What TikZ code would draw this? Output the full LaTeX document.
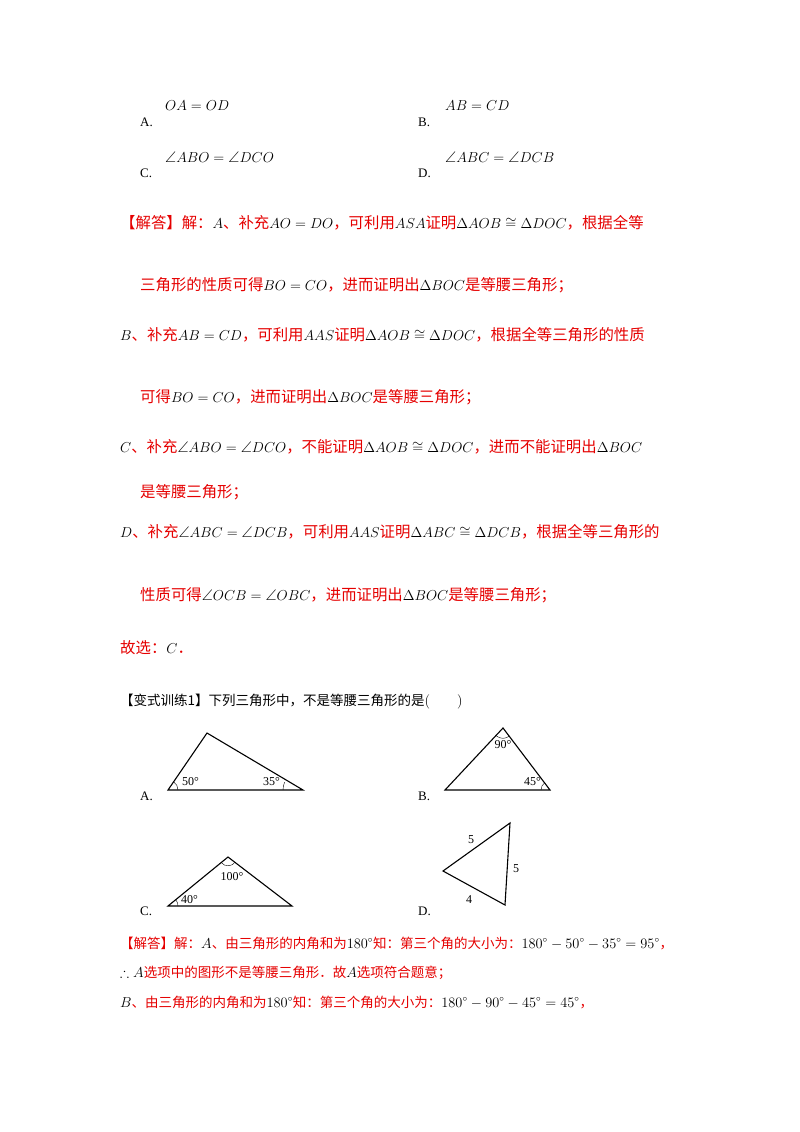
\documentclass[tikz,border=0pt]{standalone}
\usepackage{amssymb}
\usepackage{fontspec}
\setmainfont{Noto Sans CJK SC}
\newfontfamily\serifm{Liberation Serif}
\newcommand\mm[1]{{\color{black}$#1$}}
\begin{document}
\begin{tikzpicture}[x=1pt,y=-1pt,
  txt/.style={anchor=base west,inner sep=0pt,font=\fontsize{15.4}{19}\selectfont},
  red/.style={txt,text=red!90!black},
  sm/.style={anchor=base west,inner sep=0pt,font=\fontsize{13.5}{16}\selectfont},
  smred/.style={sm,text=red!90!black},
  lab/.style={anchor=base west,inner sep=0pt,font=\serifm\fontsize{13}{16}\selectfont},
  tri/.style={line width=1.1pt},
  ang/.style={font=\serifm\fontsize{12}{14}\selectfont,inner sep=0pt}]
\useasboundingbox (0,0) rectangle (800,1132);
% options
\node[txt] (oa) at (165,110) {\mm{OA=OD}};
\node[lab] (la) at (140,126) {A.};
\node[txt] (ab) at (445,110) {\mm{AB=CD}};
\node[lab] (lb) at (418,126) {B.};
\node[txt] (abo) at (165,162) {\mm{\angle ABO=\angle DCO}};
\node[lab] (lc) at (140,177) {C.};
\node[txt] (abc) at (445,162) {\mm{\angle ABC=\angle DCB}};
\node[lab] (ld) at (418,177) {D.};
% solution
\node[red] (s1) at (120,228) {【解答】解：\mm{A}、补充\mm{AO=DO}，可利用\mm{ASA}证明\mm{\Delta AOB\cong\Delta DOC}，根据全等};
\node[red] (s2) at (140,290) {三角形的性质可得\mm{BO=CO}，进而证明出\mm{\Delta BOC}是等腰三角形；};
\node[red] (s3) at (120,340) {\mm{B}、补充\mm{AB=CD}，可利用\mm{AAS}证明\mm{\Delta AOB\cong\Delta DOC}，根据全等三角形的性质};
\node[red] (s4) at (140,402) {可得\mm{BO=CO}，进而证明出\mm{\Delta BOC}是等腰三角形；};
\node[red] (s5) at (120,452) {\mm{C}、补充\mm{\angle ABO=\angle DCO}，不能证明\mm{\Delta AOB\cong\Delta DOC}，进而不能证明出\mm{\Delta BOC}};
\node[red] (s6) at (140,497) {是等腰三角形；};
\node[red] (s7) at (120,537) {\mm{D}、补充\mm{\angle ABC=\angle DCB}，可利用\mm{AAS}证明\mm{\Delta ABC\cong\Delta DCB}，根据全等三角形的};
\node[red] (s8) at (140,600) {性质可得\mm{\angle OCB=\angle OBC}，进而证明出\mm{\Delta BOC}是等腰三角形；};
\node[red] (s9) at (120,653) {故选：\mm{C}．};
% question
\node[sm] (q) at (120,705) {【变式训练1】下列三角形中，不是等腰三角形的是\mm{(\qquad)}};
% triangles
\coordinate (a1) at (168,790); \coordinate (a2) at (303,790); \coordinate (a3) at (207,733);
\draw[tri] (a1)--(a2)--(a3)--cycle;
\draw (a1)+(10,0) arc (0:-56:10);
\draw (a2)+(-20,0) arc (-180:-157:20);
\node[ang,anchor=south west] (t50) at (182,786) {50°};
\node[ang,anchor=south east] (t35) at (280,786) {35°};
\node[lab] (ta) at (140,800) {A.};
\coordinate (b1) at (445,790); \coordinate (b2) at (550,790); \coordinate (b3) at (503,728);
\draw[tri] (b1)--(b2)--(b3)--cycle;
\draw (b3)+(-6.5,8) arc (129:51:10.3);
\draw (b2)+(-9,0) arc (-180:-127:9);
\node[ang] (t90) at (503,745) {90°};
\node[ang,anchor=south east] (t45) at (541,786) {45°};
\node[lab] (tb) at (418,800) {B.};
\coordinate (c1) at (168,906); \coordinate (c2) at (292,906); \coordinate (c3) at (228,857);
\draw[tri] (c1)--(c2)--(c3)--cycle;
\draw (c3)+(-7,5.4) arc (142:38:8.8);
\draw (c1)+(10,0) arc (0:-38:10);
\node[ang] (t100) at (232,877) {100°};
\node[ang,anchor=south west] (t40) at (181,904) {40°};
\node[lab] (tc) at (140,915) {C.};
\coordinate (d1) at (443,871); \coordinate (d2) at (510,823); \coordinate (d3) at (505,905);
\draw[tri] (d1)--(d2)--(d3)--cycle;
\node[ang] (d5a) at (471,840) {5};
\node[ang] (d5b) at (516,869) {5};
\node[ang] (d4) at (469,900) {4};
\node[lab] (td) at (418,915) {D.};
% answer
\node[smred] (r1) at (120,948) {【解答】解：\mm{A}、由三角形的内角和为\mm{180^\circ}知：第三个角的大小为：\mm{180^\circ-50^\circ-35^\circ=95^\circ}，};
\node[smred] (r2) at (120,977) {\mm{\therefore A}选项中的图形不是等腰三角形．故\mm{A}选项符合题意；};
\node[smred] (r3) at (120,1007) {\mm{B}、由三角形的内角和为\mm{180^\circ}知：第三个角的大小为：\mm{180^\circ-90^\circ-45^\circ=45^\circ}，};
\end{tikzpicture}
\end{document}
